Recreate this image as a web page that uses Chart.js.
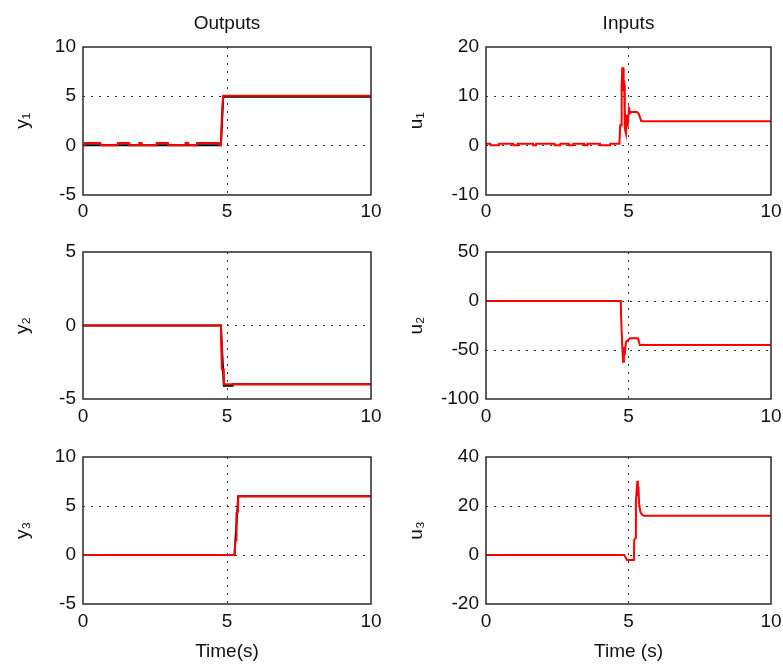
<!DOCTYPE html>
<html>
<head>
<meta charset="utf-8">
<title>Outputs / Inputs</title>
<script src="https://cdn.jsdelivr.net/npm/chart.js@4.4.0/dist/chart.umd.min.js"></script>
<style>
html, body { margin: 0; padding: 0; background: #fff; }
#fig { position: relative; width: 783px; height: 666px; background: #fff; }
#fig canvas { position: absolute; }
</style>
</head>
<body>
<div id="fig">
  <canvas id="c-y1" width="390" height="230" style="left:0px;top:0px"></canvas>
  <canvas id="c-u1" width="388" height="230" style="left:395px;top:0px"></canvas>
  <canvas id="c-y2" width="390" height="205" style="left:0px;top:230px"></canvas>
  <canvas id="c-u2" width="388" height="205" style="left:395px;top:230px"></canvas>
  <canvas id="c-y3" width="390" height="231" style="left:0px;top:435px"></canvas>
  <canvas id="c-u3" width="388" height="231" style="left:395px;top:435px"></canvas>
</div>
<script>
// outputs (red = measured, black = reference)
var y1Time = [0, 0.05, 0.06, 0.6, 0.61, 1.2, 1.21, 1.6, 1.61, 1.95, 1.96, 2.03, 2.04, 2.55, 2.56, 2.95, 2.96, 3.55, 3.56, 3.65, 3.66, 3.95, 3.96, 4.72, 4.73, 4.79, 4.80, 4.82, 4.83, 4.85, 4.87, 10];
var y1Vals = [0, 0, 0.25, 0.25, 0, 0, 0.25, 0.25, 0, 0, 0.25, 0.25, 0, 0, 0.25, 0.25, 0, 0, 0.25, 0.25, 0, 0, 0.25, 0.25, 0, 0, 1.2, 1.2, 3.6, 3.6, 5.05, 5.05];
var y1RefTime = [0, 4.79, 4.87, 10];
var y1RefVals = [0, 0, 4.95, 4.95];

var y2Time = [0, 4.79, 4.795, 4.82, 4.825, 4.88, 4.89, 10];
var y2Vals = [0, 0, -1.05, -1.05, -3.0, -3.0, -4.0, -4.0];
var y2RefTime = [0, 4.79, 4.89, 5.2, 5.21, 10];
var y2RefVals = [0, 0, -4.1, -4.1, -4.0, -4.0];

var y3Time = [0, 5.24, 5.27, 5.28, 5.32, 5.33, 5.38, 5.39, 10];
var y3Vals = [0, 0, 0.1, 1.4, 1.5, 4.3, 4.4, 6.0, 6.0];
var y3RefTime = [0, 5.26, 5.39, 10];
var y3RefVals = [0, 0, 6.0, 6.0];

// inputs
var u1Time = [0, 0.15, 0.16, 0.45, 0.46, 0.95, 0.96, 1.10, 1.11, 1.65, 1.66, 1.75, 1.76, 2.40, 2.41, 2.60, 2.61, 2.90, 2.91, 3.05, 3.06, 3.45, 3.46, 3.55, 3.56, 4.00, 4.01, 4.35, 4.36, 4.68, 4.70, 4.71, 4.74, 4.75, 4.77, 4.78, 4.82, 4.83, 4.85, 4.87, 4.91, 4.94, 4.97, 5.02, 5.06, 5.10, 5.30, 5.36, 5.45, 10];
var u1Vals = [0.3, 0.3, 0, 0, 0.3, 0.3, 0, 0, 0.3, 0.3, 0, 0, 0.3, 0.3, 0, 0, 0.3, 0.3, 0, 0, 0.3, 0.3, 0, 0, 0.3, 0.3, 0, 0, 0.3, 0.3, 0.3, 4.1, 4.1, 11.6, 11.6, 15.7, 15.7, 12.0, 12.3, 3.5, 2.4, 6.2, 3.8, 7.5, 6.6, 6.8, 6.8, 6.4, 4.9, 4.9];

var u2Time = [0, 4.73, 4.74, 4.77, 4.78, 4.81, 4.84, 4.87, 4.91, 4.98, 5.05, 5.33, 5.40, 10];
var u2Vals = [0, 0, -16, -16, -45, -62, -47, -55, -41.5, -40, -38, -38, -45, -45];

var u3Time = [0, 4.85, 4.90, 4.95, 5.15, 5.19, 5.20, 5.25, 5.26, 5.31, 5.33, 5.35, 5.37, 5.42, 5.47, 5.53, 10];
var u3Vals = [0, 0, -1, -2, -2, -2, 6.1, 7, 21.8, 30.3, 24, 28, 21, 17.5, 16.5, 16, 16];

var colTitles = ["Outputs", "Inputs"];
var xLabels = ["Time(s)", "Time (s)"];

// layout of the figure (page pixels)
var colCanvas = [{left: 0, width: 390}, {left: 395, width: 388}];
var rowCanvas = [{top: 0, height: 230}, {top: 230, height: 205}, {top: 435, height: 231}];
var colPlot = [{l: 83, r: 371}, {l: 486, r: 771}];
var rowPlot = [{t: 47, b: 194.5}, {t: 252, b: 399}, {t: 457, b: 604}];

Chart.defaults.font.family = '"Liberation Sans", Arial, Helvetica, sans-serif';
Chart.defaults.font.size = 19;
Chart.defaults.color = '#111';

function pts(ts, vs) {
    return ts.map(function(t, i) { return {x: t, y: vs[i]}; });
}

var boxPlugin = {
    id: 'axbox',
    afterDraw: function(chart) {
        var a = chart.chartArea, ctx = chart.ctx;
        ctx.save();
        ctx.strokeStyle = '#2a2a2a';
        ctx.lineWidth = 1.5;
        ctx.strokeRect(Math.round(a.left), Math.round(a.top), Math.round(a.right - a.left), Math.round(a.bottom - a.top));
        ctx.restore();
    }
};

function makePanel(id, row, col, yLabel, yMin, yMax, yStep, datasets) {
    var cc = colCanvas[col], rc = rowCanvas[row], cp = colPlot[col], rp = rowPlot[row];
    var gridColor = function(c) {
        var v = c.tick ? c.tick.value : null;
        var s = c.scale;
        if (v === s.min || v === s.max) return 'rgba(0,0,0,0)';
        return '#333';
    };
    return new Chart(document.getElementById(id), {
        type: 'line',
        data: { datasets: datasets },
        plugins: [boxPlugin],
        options: {
            responsive: false,
            animation: false,
            devicePixelRatio: 1,
            events: [],
            layout: {
                padding: { top: row === 0 ? 0 : rp.t - rc.top, right: cc.left + cc.width - cp.r, bottom: 0, left: 0 }
            },
            elements: { point: { radius: 0 }, line: { tension: 0 } },
            plugins: {
                legend: { display: false },
                tooltip: { enabled: false },
                title: {
                    display: row === 0,
                    text: colTitles[col],
                    fullSize: false,
                    font: { size: 19, weight: 'normal' },
                    color: '#111',
                    padding: { top: 12, bottom: 12.2 }
                }
            },
            scales: {
                x: {
                    type: 'linear',
                    min: 0, max: 10,
                    ticks: { stepSize: 5, padding: 6, maxRotation: 0, autoSkip: false },
                    grid: { color: gridColor, lineWidth: 1, drawTicks: false },
                    border: { display: false, dash: [2, 6] },
                    title: {
                        display: row === 2,
                        text: xLabels[col],
                        font: { size: 19 },
                        padding: { top: 0, bottom: 2.6 }
                    },
                    afterFit: function(s) {
                        s.height = rc.top + rc.height - rp.b;
                        s.paddingLeft = 0;
                        s.paddingRight = 0;
                    }
                },
                y: {
                    min: yMin, max: yMax,
                    ticks: { stepSize: yStep, padding: 7 },
                    grid: { color: gridColor, lineWidth: 1, drawTicks: false },
                    border: { display: false, dash: [2, 6] },
                    title: {
                        display: true,
                        text: yLabel,
                        font: { size: 19 },
                        padding: { top: col === 0 ? 11.6 : 10.6, bottom: 0 }
                    },
                    afterFit: function(s) { s.width = cp.l - cc.left; }
                }
            }
        }
    });
}

function red(ts, vs) {
    return { data: pts(ts, vs), borderColor: '#ff0000', borderWidth: 2, fill: false };
}
function black(ts, vs) {
    return { data: pts(ts, vs), borderColor: '#000000', borderWidth: 2, fill: false };
}

makePanel('c-y1', 0, 0, 'y\u2081', -5, 10, 5, [red(y1Time, y1Vals), black(y1RefTime, y1RefVals)]);
makePanel('c-y2', 1, 0, 'y\u2082', -5, 5, 5, [red(y2Time, y2Vals), black(y2RefTime, y2RefVals)]);
makePanel('c-y3', 2, 0, 'y\u2083', -5, 10, 5, [red(y3Time, y3Vals), black(y3RefTime, y3RefVals)]);
makePanel('c-u1', 0, 1, 'u\u2081', -10, 20, 10, [red(u1Time, u1Vals)]);
makePanel('c-u2', 1, 1, 'u\u2082', -100, 50, 50, [red(u2Time, u2Vals)]);
makePanel('c-u3', 2, 1, 'u\u2083', -20, 40, 20, [red(u3Time, u3Vals)]);
</script>
</body>
</html>
